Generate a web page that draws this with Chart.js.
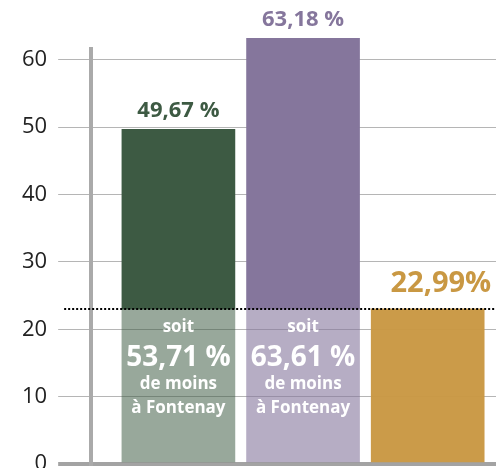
<!DOCTYPE html>
<html>
<head>
<meta charset="utf-8">
<script src="https://cdn.jsdelivr.net/npm/chart.js@4"></script>
<style>
  html, body { margin: 0; padding: 0; background: #fff; overflow: hidden; }
  #wrap { width: 496px; height: 468px; overflow: hidden; }
</style>
</head>
<body>
<div id="wrap"><canvas id="c" width="496" height="494"></canvas></div>
<script>
// ---- Data ----
const categories = ["Barre 1", "Barre 2", "Fontenay"];
const values = [49.67, 63.18, 22.99];
const valueLabels = ["49,67 %", "63,18 %", "22,99%"];
const referenceValue = 22.99;
const reductionLabels = ["53,71 %", "63,61 %", null];
const yTicks = [0, 10, 20, 30, 40, 50, 60];

// ---- Styles ----
const darkColors = ["#3d5a43", "#85769c", "#c99843"];
const lightColors = ["rgba(61,90,67,0.53)", "rgba(133,118,156,0.6)", "rgba(201,152,67,0.97)"];
const FONT = "'Open Sans', 'DejaVu Sans', sans-serif";

const lowerData = values.map((v, i) => ({ x: i + 1, y: Math.min(v, referenceValue) }));
const upperData = values.map((v, i) => ({ x: i + 1, y: Math.max(v - referenceValue, 0) }));

const annotate = {
  id: "annotate",
  afterDatasetsDraw(chart) {
    const ctx = chart.ctx;
    const xs = chart.scales.x, ys = chart.scales.y;
    const area = chart.chartArea;
    const refY = ys.getPixelForValue(referenceValue);
    ctx.save();
    // dotted reference line
    ctx.beginPath();
    ctx.setLineDash([2, 2]);
    ctx.lineWidth = 2;
    ctx.strokeStyle = "#000";
    ctx.moveTo(area.left - 27, refY);
    ctx.lineTo(chart.width, refY);
    ctx.stroke();
    ctx.setLineDash([]);

    const meta = chart.getDatasetMeta(1);
    values.forEach((v, i) => {
      const cx = xs.getPixelForValue(i + 1);
      const topY = ys.getPixelForValue(v);
      if (i < 2) {
        ctx.fillStyle = darkColors[i];
        ctx.font = "bold 22px " + FONT;
        ctx.textAlign = "center";
        ctx.textBaseline = "alphabetic";
        ctx.fillText(valueLabels[i], cx, topY - 12);
        // inside texts
        ctx.fillStyle = "#fff";
        ctx.font = "bold 17px " + FONT;
        ctx.fillText("soit", cx, refY + 23);
        ctx.font = "bold 28px " + FONT;
        ctx.fillText(reductionLabels[i], cx, refY + 57);
        ctx.font = "bold 17px " + FONT;
        ctx.fillText("de moins", cx, refY + 80);
        ctx.fillText("à Fontenay", cx, refY + 104);
      } else {
        const bar = meta.data[i];
        ctx.fillStyle = darkColors[i];
        ctx.font = "bold 29px " + FONT;
        ctx.textAlign = "right";
        ctx.textBaseline = "alphabetic";
        ctx.fillText(valueLabels[i], bar.x + bar.width / 2 + 7, topY - 17);
      }
    });
    ctx.restore();
  }
};

new Chart(document.getElementById("c"), {
  type: "bar",
  data: {
    datasets: [
      { label: "base", data: lowerData, backgroundColor: lightColors, borderWidth: 0, clip: false, barThickness: 113 },
      { label: "excédent", data: upperData, backgroundColor: darkColors, borderWidth: 0, clip: false, barThickness: 113 }
    ]
  },
  options: {
    responsive: false,
    animation: false,
    events: [],
    layout: { padding: { top: 49, bottom: 30, left: 11, right: 0 } },
    plugins: { legend: { display: false }, tooltip: { enabled: false } },
    scales: {
      x: {
        type: "linear",
        stacked: true,
        display: false,
        offset: false,
        grid: { offset: false },
        min: 0.3,
        max: 3.548
      },
      y: {
        stacked: true,
        min: 0,
        max: 61.6,
        afterBuildTicks: (scale) => { scale.ticks = yTicks.map(v => ({ value: v })); },
        ticks: {
          padding: 11,
          color: "#222",
          font: { family: FONT, size: 22 },
          callback: (v) => String(v)
        },
        grid: {
          tickLength: 33,
          color: (c) => c.tick && c.tick.value === 0 ? "#a3a3a3" : "#b5b5b5",
          lineWidth: (c) => c.tick && c.tick.value === 0 ? 4 : 1
        },
        border: { display: true, color: "#aaaaaa", width: 4 }
      }
    }
  },
  plugins: [annotate]
});
</script>
</body>
</html>
